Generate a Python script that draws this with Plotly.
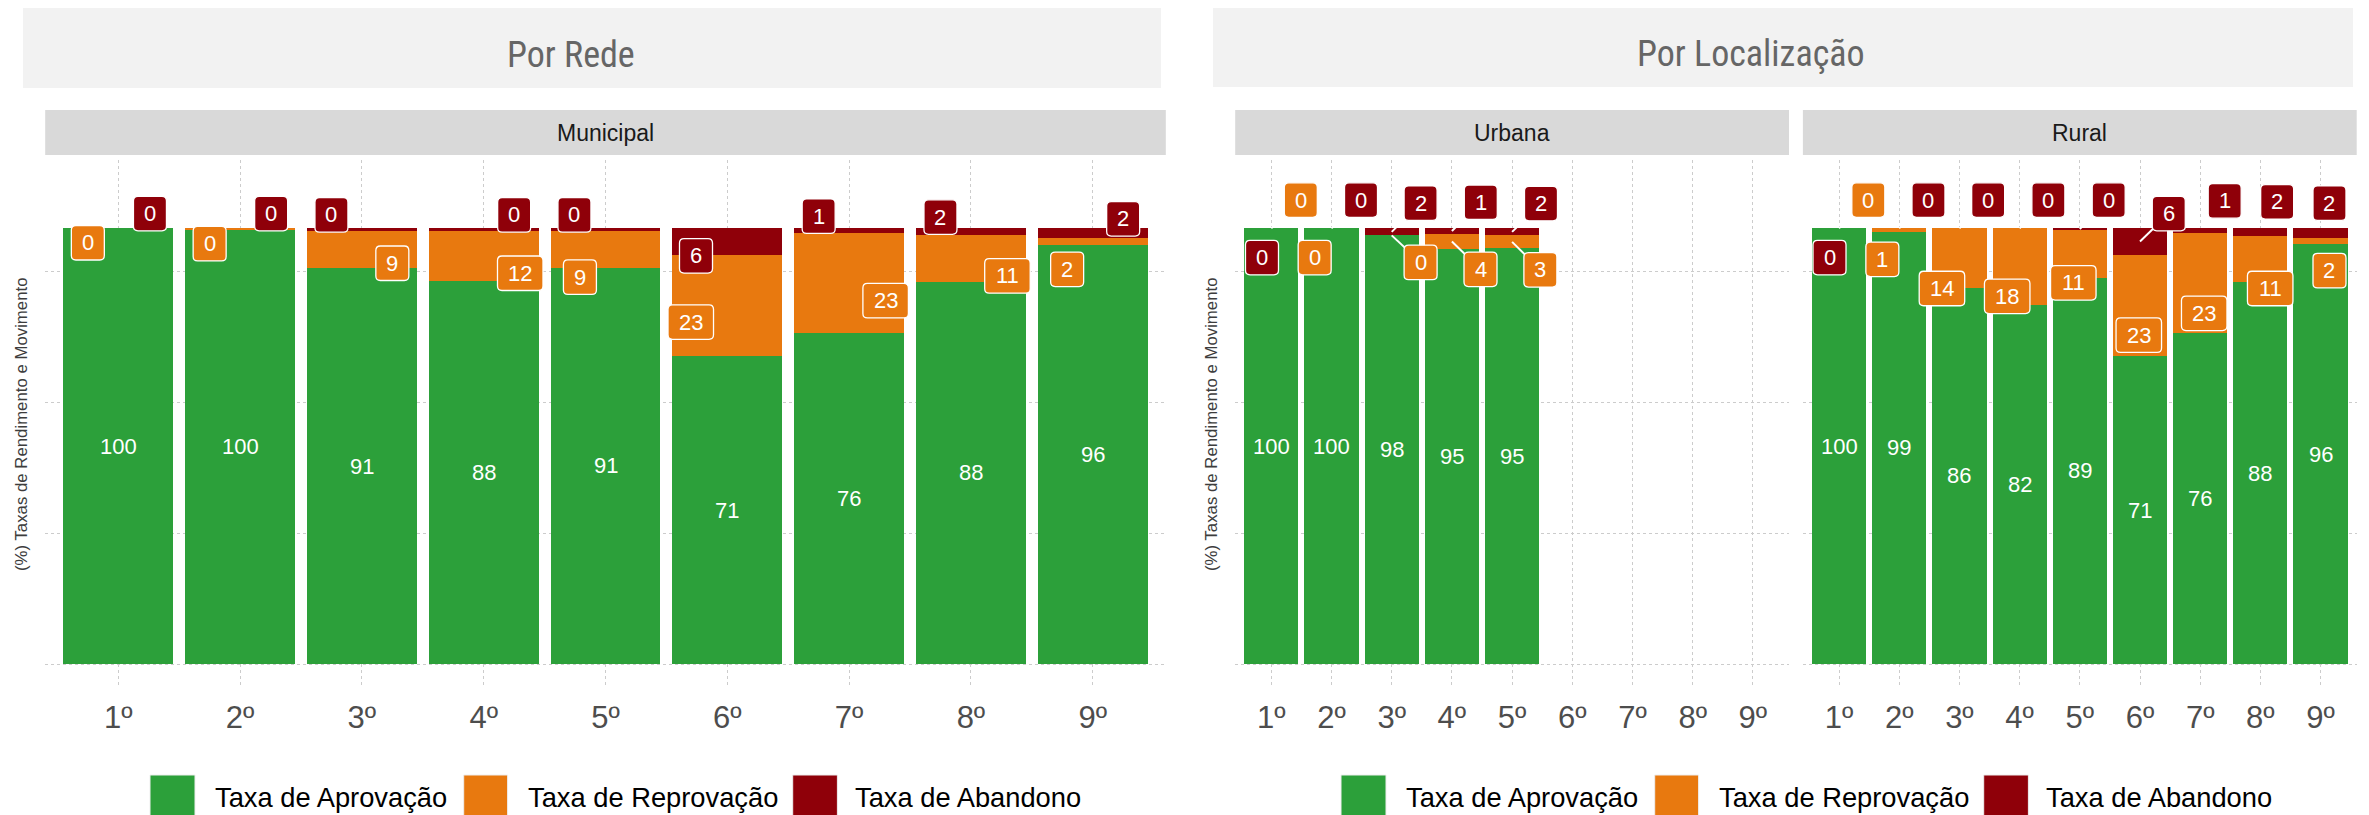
import plotly.graph_objects as go

# ---------------- data ----------------
grades = ["1º", "2º", "3º", "4º", "5º", "6º", "7º", "8º", "9º"]
series_names = ["Taxa de Aprovação", "Taxa de Reprovação", "Taxa de Abandono"]

# Por Rede - Municipal
aprov_mun = [100, 99.7, 90.8, 87.9, 91.0, 70.7, 75.9, 87.8, 96.3]
reprov_mun = [0, 0.3, 8.8, 11.7, 8.6, 23.3, 23.0, 10.6, 1.6]
aband_mun = [0, 0, 0.4, 0.4, 0.4, 6.0, 1.1, 1.6, 2.1]

# Por Localização - Urbana (only 1º-5º)
urb_grades = ["1º", "2º", "3º", "4º", "5º"]
aprov_urb = [100, 100, 98.4, 95.2, 95.4]
reprov_urb = [0, 0, 0, 3.6, 3.0]
aband_urb = [0, 0, 1.6, 1.2, 1.6]

# Por Localização - Rural
aprov_rur = [100, 99.2, 86.4, 82.4, 88.7, 70.7, 75.9, 87.7, 96.4]
reprov_rur = [0, 0.8, 13.6, 17.6, 11.0, 23.3, 23.0, 10.6, 1.5]
aband_rur = [0, 0, 0, 0, 0.3, 6.0, 1.1, 1.7, 2.1]

# label nudges (repel result): dx in category units, dy in % units, relative to segment centre
nud_mun_rep_dx = [-0.25, -0.25, 0.25, 0.30, -0.21, -0.30, 0.30, 0.30, -0.21]
nud_mun_rep_dy = [-3.3, -3.35, -3.2, -4.05, -6.5, -3.85, -4.0, -4.0, -6.5]
nud_mun_aba_dx = [0.26, 0.255, -0.25, 0.25, -0.255, -0.257, -0.25, -0.25, 0.25]
nud_mun_aba_dy = [3.4, 3.4, 3.3, 3.3, 3.3, -3.3, 3.35, 3.4, 3.25]

nud_urb_rep_dx = [0.49, -0.28, 0.48, 0.475, 0.47]
nud_urb_rep_dy = [6.5, -6.7, -6.2, -6.4, -6.4]
nud_urb_aba_dx = [-0.155, 0.49, 0.48, 0.48, 0.48]
nud_urb_aba_dy = [-6.7, 6.5, 6.6, 6.6, 6.5]

nud_rur_rep_dx = [0.487, -0.28, -0.29, -0.206, -0.108, -0.02, 0.067, 0.163, 0.148]
nud_rur_rep_dy = [6.5, -6.7, -7.0, -6.8, -6.7, -6.85, -6.9, -6.8, -6.85]
nud_rur_aba_dx = [-0.158, 0.486, 0.478, 0.478, 0.48, 0.478, 0.407, 0.279, 0.148]
nud_rur_aba_dy = [-6.7, 6.5, 6.5, 6.5, 6.65, 6.4, 6.85, 6.95, 6.85]

# ---------------- style ----------------
PAGE_W, PAGE_H = 2369, 815
OFF = 8  # default body margin of the html page
W, H = PAGE_W - OFF, PAGE_H - OFF
C_AP, C_REP, C_AB = "#2ca03a", "#e8790f", "#8f0009"
FONT = "Liberation Sans, Arial, Helvetica, sans-serif"
NARROW = "Liberation Sans Narrow, Arial Narrow, Roboto Condensed, Roboto, sans-serif"
GRID = "#cccccc"
YR = [-5.5, 115.7]
XR = [-0.6, 8.6]


def px(x):  # page pixel -> paper fraction
    return (x - OFF) / W


def py(y):
    return 1 - (y - OFF) / H


Y_TOP, Y_BOT = 160, 688
panels = [
    dict(xa="x", ya="y", dom=(45.2, 1165.8), cats=grades, ap=aprov_mun, rep=reprov_mun, ab=aband_mun,
         rdx=nud_mun_rep_dx, rdy=nud_mun_rep_dy, adx=nud_mun_aba_dx, ady=nud_mun_aba_dy,
         strip="Municipal", seg=False),
    dict(xa="x2", ya="y2", dom=(1235.2, 1789.0), cats=urb_grades, ap=aprov_urb, rep=reprov_urb, ab=aband_urb,
         rdx=nud_urb_rep_dx, rdy=nud_urb_rep_dy, adx=nud_urb_aba_dx, ady=nud_urb_aba_dy,
         strip="Urbana", seg=True),
    dict(xa="x3", ya="y3", dom=(1802.9, 2356.7), cats=grades, ap=aprov_rur, rep=reprov_rur, ab=aband_rur,
         rdx=nud_rur_rep_dx, rdy=nud_rur_rep_dy, adx=nud_rur_aba_dx, ady=nud_rur_aba_dy,
         strip="Rural", seg=True),
]

fig = go.Figure()
annotations = []
seg_shapes = []
box_shapes = []
bg_shapes = []


def rnd(v):
    return str(int(v + 0.5))


def rounded_rect(w, h, r):
    a, b = w / 2, h / 2
    return (f"M {-a + r},{-b} L {a - r},{-b} Q {a},{-b} {a},{-b + r} L {a},{b - r} Q {a},{b} {a - r},{b} "
            f"L {-a + r},{b} Q {-a},{b} {-a},{b - r} L {-a},{-b + r} Q {-a},{-b} {-a + r},{-b} Z")


def box_label(xref, yref, x, y, text, color):
    w = 33 if len(text) == 1 else 45.5
    box_shapes.append(dict(type="path", xref=xref, yref=yref, xsizemode="pixel", ysizemode="pixel",
                           xanchor=x, yanchor=y, path=rounded_rect(w, 34.5, 4.5),
                           fillcolor=color, line=dict(color="white", width=1.3), layer="above"))
    annotations.append(dict(xref=xref, yref=yref, x=x, y=y, text=text, showarrow=False,
                            font=dict(family=FONT, size=22, color="white"),
                            xanchor="center", yanchor="middle"))


layout_axes = {}
for p in panels:
    xa, ya = p["xa"], p["ya"]
    for vals, name, col in [(p["ap"], series_names[0], C_AP), (p["rep"], series_names[1], C_REP),
                            (p["ab"], series_names[2], C_AB)]:
        fig.add_trace(go.Bar(x=p["cats"], y=vals, name=name, marker=dict(color=col, line=dict(width=0)),
                             width=0.9, xaxis=xa, yaxis=ya, showlegend=False, hoverinfo="skip"))
    x0, x1 = p["dom"]
    ppx = (x1 - x0) / (XR[1] - XR[0])
    ppy = (Y_BOT - Y_TOP) / (YR[1] - YR[0])
    xkey = "xaxis" + xa[1:]
    ykey = "yaxis" + ya[1:]
    layout_axes[xkey] = dict(domain=[px(x0), px(x1)], type="category", categoryorder="array",
                             categoryarray=grades, range=XR, anchor=ya, showgrid=True, gridcolor=GRID,
                             griddash="dot", gridwidth=1, zeroline=False, showline=False, ticks="",
                             ticklabelstandoff=8,
                             tickfont=dict(family=FONT, size=31, color="#4d4d4d"), fixedrange=True)
    layout_axes[ykey] = dict(domain=[py(Y_BOT), py(Y_TOP)], range=YR, anchor=xa, tickvals=[0, 30, 60, 90],
                             showticklabels=False, showgrid=True, gridcolor=GRID, griddash="dot", gridwidth=1,
                             zeroline=False, showline=False, ticks="", fixedrange=True)
    # strip
    bg_shapes.append(dict(type="rect", xref="paper", yref="paper", x0=px(x0), x1=px(x1), y0=py(155), y1=py(110),
                          fillcolor="#d9d9d9", line=dict(width=0), layer="below"))
    annotations.append(dict(xref="paper", yref="paper", x=px((x0 + x1) / 2), y=py(133), text=p["strip"],
                            showarrow=False, font=dict(family=FONT, size=23, color="#1a1a1a"),
                            xanchor="center", yanchor="middle"))
    # labels
    for i, cat in enumerate(p["cats"]):
        ap, rep, ab = p["ap"][i], p["rep"][i], p["ab"][i]
        annotations.append(dict(xref=xa, yref=ya, x=i, y=ap / 2, text=rnd(ap), showarrow=False,
                                font=dict(family=FONT, size=22, color="white"),
                                xanchor="center", yanchor="middle"))
        for val, anchor, dx, dy, col in [(rep, ap + rep / 2, p["rdx"][i], p["rdy"][i], C_REP),
                                         (ab, ap + rep + ab / 2, p["adx"][i], p["ady"][i], C_AB)]:
            txt = rnd(val)
            lx, ly = i + dx, anchor + dy
            hw = (33 if len(txt) == 1 else 45.5) / 2 + 8
            if p["seg"] and abs(dx) * ppx > hw and abs(dy) * ppy > 17.25 + 7:
                seg_shapes.append(dict(type="line", xref=xa, yref=ya, x0=i, y0=anchor, x1=lx, y1=ly,
                                       line=dict(color="white", width=2), layer="above"))
            box_label(xa, ya, lx, ly, txt, col)

# title boxes
for (bx0, bx1, by0, by1, tx, ty, title) in [(23, 1161, 6, 88, 571, 55, "Por Rede"),
                                           (1213, 2353, 5, 87, 1751, 54, "Por Localização")]:
    bg_shapes.append(dict(type="rect", xref="paper", yref="paper", x0=px(bx0), x1=px(bx1), y0=py(by1),
                          y1=py(by0), fillcolor="#f2f2f2", line=dict(width=0), layer="below"))
    annotations.append(dict(xref="paper", yref="paper", x=px(tx), y=py(ty), text=title, showarrow=False,
                            font=dict(family=NARROW, size=36, color="#666666"),
                            xanchor="center", yanchor="middle"))

# y axis titles
for ax in [22, 1212]:
    annotations.append(dict(xref="paper", yref="paper", x=px(ax), y=py(424),
                            text="(%) Taxas de Rendimento e Movimento", showarrow=False, textangle=-90,
                            font=dict(family=FONT, size=16.8, color="#3d3d3d"),
                            xanchor="center", yanchor="middle"))

# legends (one under each chart)
legend_keys = [(150, 195, 213.3), (463.7, 507.6, 525.7), (792.7, 837.4, 853.0)]
for shift in [0, 1191]:
    for (k0, k1, tx), name, col in zip(legend_keys, series_names, [C_AP, C_REP, C_AB]):
        bg_shapes.append(dict(type="rect", xref="paper", yref="paper", x0=px(k0 + shift), x1=px(k1 + shift),
                              y0=py(820), y1=py(775), fillcolor=col, line=dict(color="#eeeeee", width=1)))
        annotations.append(dict(xref="paper", yref="paper", x=px(tx + shift), y=py(797), text=name,
                                showarrow=False, font=dict(family=FONT, size=27.3, color="#000000"),
                                xanchor="left", yanchor="middle"))

fig.update_layout(width=W, height=H, margin=dict(l=0, r=0, t=0, b=0), barmode="stack",
                  plot_bgcolor="white", paper_bgcolor="white", font=dict(family=FONT),
                  showlegend=False, annotations=annotations,
                  shapes=bg_shapes + seg_shapes + box_shapes, **layout_axes)

fig.write_html("out.html")
